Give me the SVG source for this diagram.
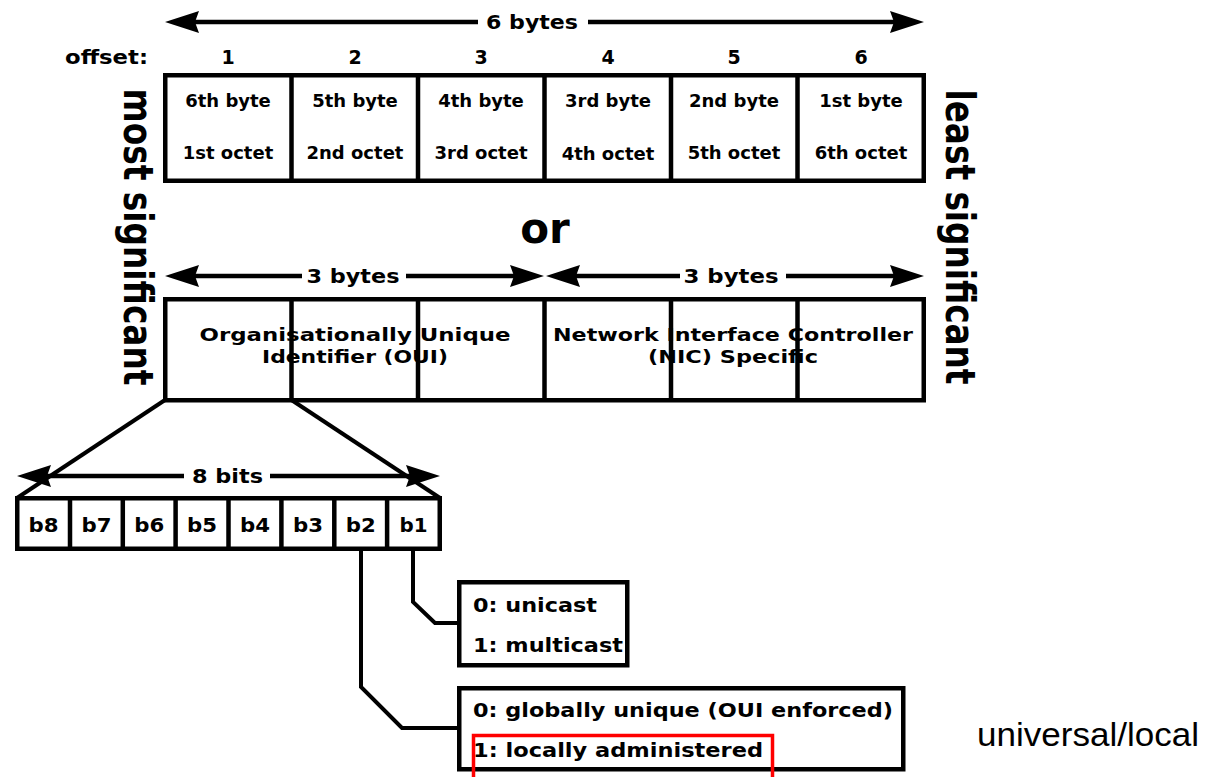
<svg xmlns="http://www.w3.org/2000/svg" width="1222" height="777" viewBox="0 0 1222 777">
<style>
.b{fill:#fff;stroke:#000;stroke-width:4.5}
.d{stroke:#000;stroke-width:4.5;fill:none}
.t{font-family:"DejaVu Sans",sans-serif;font-weight:bold;fill:#000}
.lbl{font-size:19px}
.cell{font-size:18px;text-anchor:middle}
.big{font-size:18.5px;text-anchor:middle}
.bit{font-size:19px;text-anchor:middle}
.opt{font-size:20px}
.side{font-family:"DejaVu Sans",sans-serif;font-weight:bold;font-size:40px;text-anchor:middle}
.ar{stroke:#000;stroke-width:4.5;fill:none;marker-start:url(#ah);marker-end:url(#ah)}
.gap{fill:#fff}
.c{stroke:#000;stroke-width:4;fill:none;stroke-linejoin:miter}
</style>
<defs>
<marker id="ah" viewBox="0 0 34 22" refX="24" refY="11" markerWidth="34" markerHeight="22" markerUnits="userSpaceOnUse" orient="auto-start-reverse">
<path d="M34,11 L0,0 L4,11 L0,22 Z" fill="#000"/>
</marker>
</defs>
<rect width="1222" height="777" fill="#fff"/>

<g id="connectors">
<line class="ar" x1="175" y1="22" x2="914" y2="22"/>
<line class="ar" x1="175" y1="276" x2="534" y2="276"/>
<line class="ar" x1="556" y1="276" x2="914" y2="276"/>
<line class="ar" x1="27" y1="476" x2="430" y2="476"/>
<line class="c" x1="165" y1="400" x2="17" y2="498"/>
<line class="c" x1="291.5" y1="400" x2="440" y2="498"/>
<polyline class="c" points="413,549 413,602 435,623 459,623"/>
<polyline class="c" points="361,549 361,687 402,728 459,728"/>
</g>

<g id="labels">
<rect class="gap" x="478" y="10" width="110" height="26"/>
<text class="t lbl" x="532" y="29" text-anchor="middle" textLength="92" lengthAdjust="spacingAndGlyphs">6 bytes</text>
<rect class="gap" x="302" y="264" width="104" height="24"/>
<text class="t lbl" x="353" y="283" text-anchor="middle" textLength="93" lengthAdjust="spacingAndGlyphs">3 bytes</text>
<rect class="gap" x="680" y="264" width="106" height="24"/>
<text class="t lbl" x="731" y="283" text-anchor="middle" textLength="95" lengthAdjust="spacingAndGlyphs">3 bytes</text>
<rect class="gap" x="184" y="464" width="86" height="24"/>
<text class="t lbl" x="227.5" y="483" text-anchor="middle" textLength="71" lengthAdjust="spacingAndGlyphs">8 bits</text>
<text class="t lbl" x="148" y="64" text-anchor="end" textLength="83" lengthAdjust="spacingAndGlyphs">offset:</text>
<text class="t lbl" x="228" y="64" text-anchor="middle">1</text>
<text class="t lbl" x="355" y="64" text-anchor="middle">2</text>
<text class="t lbl" x="481" y="64" text-anchor="middle">3</text>
<text class="t lbl" x="608" y="64" text-anchor="middle">4</text>
<text class="t lbl" x="734" y="64" text-anchor="middle">5</text>
<text class="t lbl" x="861" y="64" text-anchor="middle">6</text>
<text class="t" x="545" y="243" font-size="42" text-anchor="middle">or</text>
<text class="side" transform="translate(124,237) rotate(90)" textLength="297" lengthAdjust="spacingAndGlyphs">most significant</text>
<text class="side" transform="translate(946,237) rotate(90)" textLength="295" lengthAdjust="spacingAndGlyphs">least significant</text>
<text x="977" y="746" font-family="'Liberation Sans',Arial,sans-serif" font-size="34" fill="#000" textLength="222" lengthAdjust="spacingAndGlyphs">universal/local</text>
</g>

<g id="octets">
<rect class="b" x="165.25" y="75.25" width="758.5" height="105.5"/>
<path class="d" d="M291.5,75V181M418,75V181M544.5,75V181M671,75V181M797.5,75V181"/>
<text class="t cell" x="228" y="107">6th byte</text><text class="t cell" x="228" y="159">1st octet</text>
<text class="t cell" x="355" y="107">5th byte</text><text class="t cell" x="355" y="159">2nd octet</text>
<text class="t cell" x="481" y="107">4th byte</text><text class="t cell" x="481" y="159">3rd octet</text>
<text class="t cell" x="608" y="107">3rd byte</text><text class="t cell" x="608" y="160">4th octet</text>
<text class="t cell" x="734" y="107">2nd byte</text><text class="t cell" x="734" y="159">5th octet</text>
<text class="t cell" x="861" y="107">1st byte</text><text class="t cell" x="861" y="159">6th octet</text>
</g>

<g id="oui-nic">
<rect class="b" x="165.25" y="299.25" width="758.5" height="101"/>
<text class="t big" x="355" y="341" textLength="311" lengthAdjust="spacingAndGlyphs">Organisationally Unique</text>
<text class="t big" x="355" y="363" textLength="186" lengthAdjust="spacingAndGlyphs">Identifier (OUI)</text>
<text class="t big" x="733" y="341" textLength="360" lengthAdjust="spacingAndGlyphs">Network Interface Controller</text>
<text class="t big" x="733" y="363" textLength="170" lengthAdjust="spacingAndGlyphs">(NIC) Specific</text>
<path class="d" d="M291.5,299V400M418,299V400M544.5,299V400M671,299V400M797.5,299V400"/>
</g>

<g id="bits">
<rect class="b" x="17.25" y="498.25" width="422.5" height="50.5"/>
<path class="d" d="M70,498V549M122.8,498V549M175.6,498V549M228.5,498V549M281.4,498V549M334.3,498V549M387.1,498V549"/>
<text class="t bit" x="43.5" y="532" textLength="30" lengthAdjust="spacingAndGlyphs">b8</text>
<text class="t bit" x="96.5" y="532" textLength="30" lengthAdjust="spacingAndGlyphs">b7</text>
<text class="t bit" x="149.3" y="532" textLength="30" lengthAdjust="spacingAndGlyphs">b6</text>
<text class="t bit" x="202" y="532" textLength="30" lengthAdjust="spacingAndGlyphs">b5</text>
<text class="t bit" x="255" y="532" textLength="30" lengthAdjust="spacingAndGlyphs">b4</text>
<text class="t bit" x="308" y="532" textLength="30" lengthAdjust="spacingAndGlyphs">b3</text>
<text class="t bit" x="360.7" y="532" textLength="30" lengthAdjust="spacingAndGlyphs">b2</text>
<text class="t bit" x="413.5" y="532" textLength="28" lengthAdjust="spacingAndGlyphs">b1</text>
</g>

<g id="cast">
<rect class="b" x="459.25" y="582.25" width="168" height="83"/>
<text class="t opt" x="473" y="612" textLength="124" lengthAdjust="spacingAndGlyphs">0: unicast</text>
<text class="t opt" x="473" y="652" textLength="150" lengthAdjust="spacingAndGlyphs">1: multicast</text>
</g>

<g id="admin">
<rect class="b" x="459.25" y="688.25" width="444" height="81"/>
<text class="t opt" x="473" y="717" textLength="420" lengthAdjust="spacingAndGlyphs">0: globally unique (OUI enforced)</text>
<text class="t opt" x="473" y="757" textLength="290" lengthAdjust="spacingAndGlyphs">1: locally administered</text>
</g>

<g id="highlight">
<rect x="473.5" y="735.5" width="299" height="50" fill="none" stroke="#ff0000" stroke-width="3.5"/>
</g>
</svg>
